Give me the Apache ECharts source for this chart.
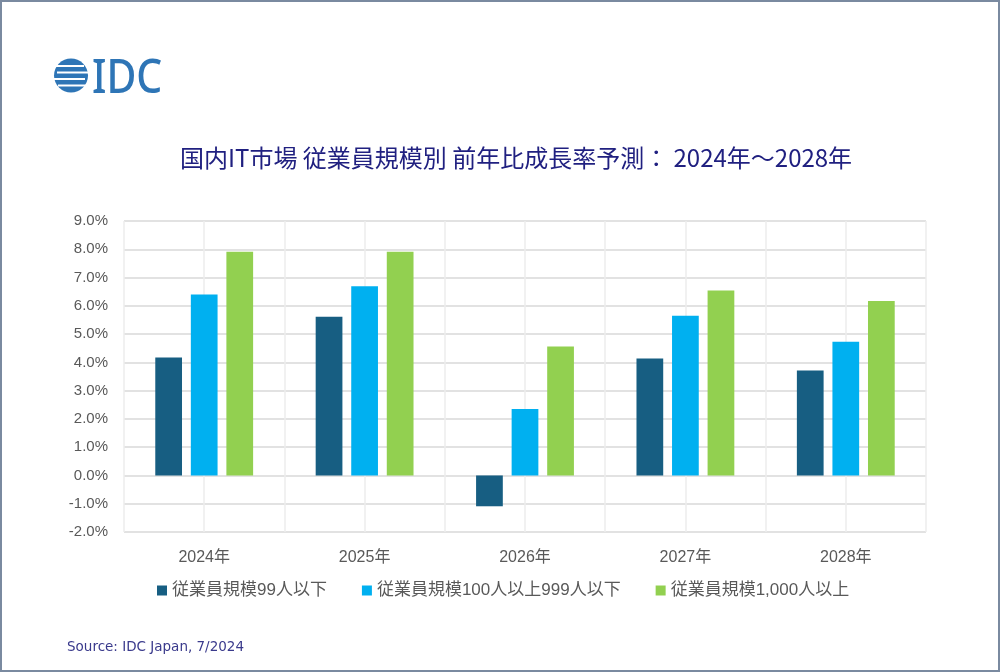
<!DOCTYPE html>
<html><head><meta charset="utf-8">
<script src="https://cdn.jsdelivr.net/npm/echarts@6/dist/echarts.min.js"></script>
<style>html,body{margin:0;padding:0;background:#fff}#c{width:1000px;height:672px}</style>
</head><body><div id="c"></div>
<script>
const categories = ['2024年','2025年','2026年','2027年','2028年'];
const seriesNames = ['従業員規模99人以下','従業員規模100人以上999人以下','従業員規模1,000人以上'];
const small = [4.17, 5.61, -1.09, 4.14, 3.71];
const medium = [6.40, 6.69, 2.35, 5.65, 4.73];
const large = [7.91, 7.91, 4.56, 6.54, 6.17];
const colors = ['#175E82','#00B0F0','#92D050'];
const titleText = '国内IT市場 従業員規模別 前年比成長率予測： 2024年～2028年';
const sourceText = 'Source: IDC Japan, 7/2024';
const halfSlots = ['a','b','c','d','e','f','g','h','i','j'];

const font = '"Liberation Sans","Noto Sans CJK JP",sans-serif';
const chart = echarts.init(document.getElementById('c'));

// globe for logo: blue disc with white horizontal cuts
const cx = 71, cy = 75.5, r = 17;
const globe = [{type: 'circle', shape: {cx: cx, cy: cy, r: r}, style: {fill: '#2E75B6'}}];
const cuts = [-10.5, -4, 2.5, 9];
const cutOffs = [-6, 5, -5, 6];
for (let i = 0; i < cuts.length; i++) {
  globe.push({type: 'rect', shape: {x: cx - r - 2 + cutOffs[i], y: cy + cuts[i], width: 2 * r + 4, height: 2}, style: {fill: '#fff'}});
}

chart.setOption({
  animation: false,
  backgroundColor: '#fff',
  color: colors,
  title: {
    text: titleText, left: 175, top: 141,
    textStyle: {fontFamily: '"Noto Sans CJK JP",sans-serif', fontSize: 24, fontWeight: 'normal', color: '#202080'}
  },
  legend: {
    data: seriesNames, left: 152, top: 577, icon: 'rect', itemWidth: 10, itemHeight: 10, itemGap: 35,
    textStyle: {fontFamily: font, fontSize: 17, color: '#595959'}
  },
  grid: {left: 124, right: 74, top: 221, bottom: 140},
  xAxis: [{
    type: 'category', data: categories,
    axisLine: {show: false}, axisTick: {show: false},
    axisLabel: {fontFamily: font, fontSize: 16, color: '#595959', margin: 18},
    splitLine: {show: false}
  }, {
    type: 'category', data: halfSlots, position: 'bottom',
    axisLine: {show: false}, axisTick: {show: false}, axisLabel: {show: false},
    splitLine: {show: true, lineStyle: {color: '#ececec', width: 1.5}}
  }],
  yAxis: {
    type: 'value', min: -2, max: 9, interval: 1,
    axisLine: {show: false}, axisTick: {show: false},
    axisLabel: {fontFamily: font, fontSize: 15, color: '#595959', margin: 16, formatter: v => v.toFixed(1) + '%'},
    splitLine: {lineStyle: {color: '#d9d9d9', width: 1.5}}
  },
  series: [
    {name: seriesNames[0], type: 'bar', data: small, barGap: '33%', barCategoryGap: '39%'},
    {name: seriesNames[1], type: 'bar', data: medium, barGap: '33%', barCategoryGap: '39%'},
    {name: seriesNames[2], type: 'bar', data: large, barGap: '33%', barCategoryGap: '39%'}
  ],
  graphic: [
    {type: 'rect', shape: {x: 1, y: 1, width: 998, height: 670}, style: {fill: 'none', stroke: '#7a8aa0', lineWidth: 2}, silent: true},
    {type: 'group', children: globe},
    {type: 'text', x: 92, y: 56, scaleX: 0.87, style: {text: 'IDC', fill: '#2E75B6', font: '500 47px "Noto Sans",sans-serif'}},
    {type: 'text', x: 67, y: 640, style: {text: sourceText, fill: '#3a3a8c', font: '13.5px "DejaVu Sans",sans-serif'}}
  ]
});
</script></body></html>
